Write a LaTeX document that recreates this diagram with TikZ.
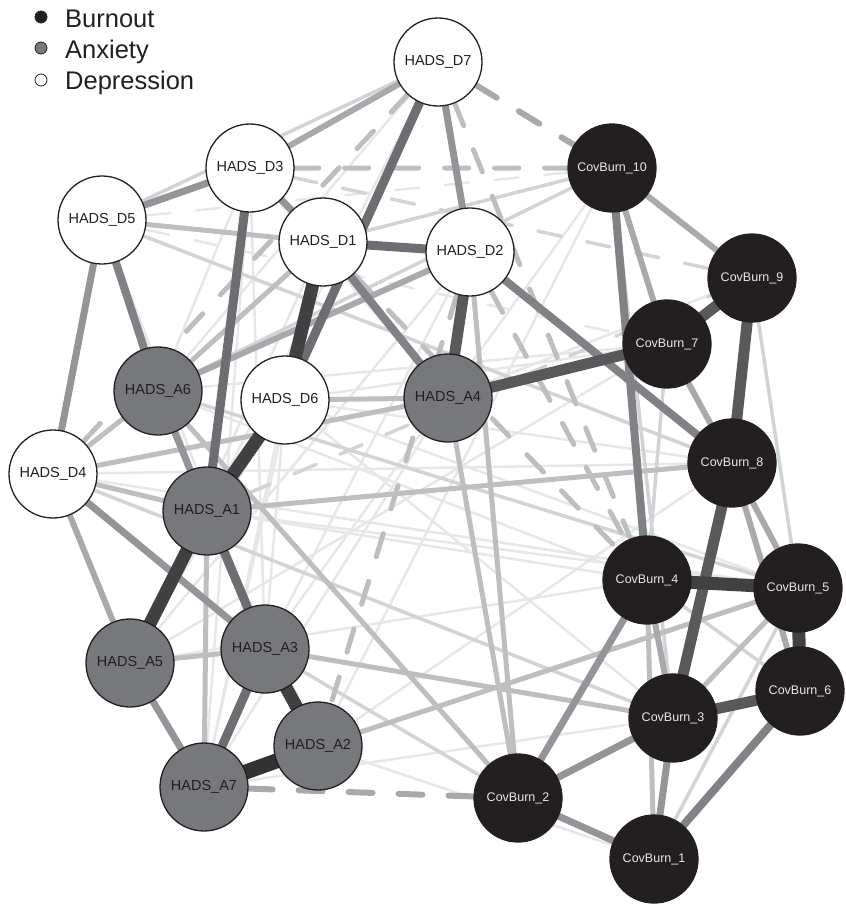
\documentclass[tikz,border=0pt]{standalone}
\usepackage{fontspec}
\setmainfont{Liberation Sans}
\usetikzlibrary{backgrounds}
\definecolor{burn}{HTML}{231F20}
\definecolor{anx}{HTML}{77787B}
\definecolor{burnText}{HTML}{E6E7E8}
\definecolor{g1}{HTML}{333132}
\definecolor{g2}{HTML}{414042}
\definecolor{g3}{HTML}{58595B}
\definecolor{g4}{HTML}{6D6E71}
\definecolor{g5}{HTML}{808285}
\definecolor{g6}{HTML}{939598}
\definecolor{g7}{HTML}{A7A9AC}
\definecolor{g8}{HTML}{BCBEC0}
\definecolor{g9}{HTML}{D1D3D4}
\definecolor{g10}{HTML}{E6E7E8}
\tikzset{
  item/.style={circle, minimum size=88pt, inner sep=0pt, draw=burn, line width=1.3pt},
  burnItem/.style={item, fill=burn, text=burnText, font=\fontsize{12.5}{14}\selectfont},
  anxItem/.style={item, fill=anx, text=burn, font=\fontsize{14.5}{16}\selectfont},
  depItem/.style={item, fill=white, text=burn, font=\fontsize{14.5}{16}\selectfont},
  link/.style={line cap=round},
  w1/.style={link, draw=g1, line width=15pt},
  w2/.style={link, draw=g2, line width=13pt},
  w3/.style={link, draw=g3, line width=11pt},
  w4/.style={link, draw=g4, line width=9pt},
  w5/.style={link, draw=g5, line width=8pt},
  w6/.style={link, draw=g6, line width=7pt},
  w7/.style={link, draw=g7, line width=6pt},
  w8/.style={link, draw=g8, line width=5pt},
  w9/.style={link, draw=g9, line width=3.5pt},
  w10/.style={link, draw=g10, line width=2.5pt},
  neg/.style={dash pattern=on 24pt off 26pt},
  key/.style={font=\fontsize{25.5}{28}\selectfont, text=burn, anchor=base west, inner sep=0pt},
  keyDot/.style={draw=burn, line width=0.8pt}
}

\begin{document}
\begin{tikzpicture}[x=1pt, y=-1pt]
\useasboundingbox (0,0) rectangle (846,905);

% legend
\filldraw[keyDot, fill=burn] (41,17) circle (6);
\filldraw[keyDot, fill=anx] (41,48) circle (6);
\filldraw[keyDot, fill=white] (41,80) circle (6);
\node[key] (kBurn) at (65,27) {Burnout};
\node[key] (kAnx) at (65,58) {Anxiety};
\node[key] (kDep) at (65,89) {Depression};

% depression
\node[depItem] (D7) at (438,62) {HADS\_D7};
\node[depItem] (D3) at (250,168) {HADS\_D3};
\node[depItem] (D5) at (102,220) {HADS\_D5};
\node[depItem] (D1) at (323,242) {HADS\_D1};
\node[depItem] (D2) at (470,252) {HADS\_D2};
\node[depItem] (D6) at (285,400) {HADS\_D6};
\node[depItem] (D4) at (53,474) {HADS\_D4};

% anxiety
\node[anxItem] (A6) at (158,391) {HADS\_A6};
\node[anxItem] (A4) at (448,398) {HADS\_A4};
\node[anxItem] (A1) at (207,511) {HADS\_A1};
\node[anxItem] (A5) at (130,663) {HADS\_A5};
\node[anxItem] (A3) at (265,649) {HADS\_A3};
\node[anxItem] (A2) at (318,746) {HADS\_A2};
\node[anxItem] (A7) at (204,787) {HADS\_A7};

% burnout
\node[burnItem] (C10) at (612,168) {CovBurn\_10};
\node[burnItem] (C9) at (752,278) {CovBurn\_9};
\node[burnItem] (C7) at (667,344) {CovBurn\_7};
\node[burnItem] (C8) at (732,463) {CovBurn\_8};
\node[burnItem] (C4) at (647,580) {CovBurn\_4};
\node[burnItem] (C5) at (798,588) {CovBurn\_5};
\node[burnItem] (C6) at (800,691) {CovBurn\_6};
\node[burnItem] (C3) at (673,718) {CovBurn\_3};
\node[burnItem] (C2) at (518,798) {CovBurn\_2};
\node[burnItem] (C1) at (654,859) {CovBurn\_1};

\begin{scope}[on background layer]
% faint
\draw[w10] (D5)--(A1) (D5)--(A3) (D3)--(A6) (D3)--(A3) (D3)--(A4) (D6)--(A3);
\draw[w10] (D6)--(A5) (D6)--(C5) (A6)--(C4) (D4)--(C5) (D4)--(C8) (A1)--(C5);
\draw[w10] (A1)--(C4) (A5)--(C4) (A7)--(D1) (A7)--(A4) (A3)--(D2) (A2)--(C8);
\draw[w10] (D6)--(C3) (D1)--(A5) (D3)--(A7) (D7)--(A6) (D7)--(A1) (C10)--(A3);
\draw[w10] (C10)--(A2) (C9)--(A4) (C7)--(A5) (C7)--(D6) (C8)--(D6) (A2)--(C1);
\draw[w10] (A7)--(C3) (A7)--(D6) (A5)--(D2) (A6)--(C7);
\draw[w10, neg] (D5)--(C10) (D5)--(C7) (A5)--(D2);
\draw[w9] (D1)--(C10) (D5)--(D7) (D4)--(C3) (A6)--(C5) (A3)--(C2) (D5)--(C8);
\draw[w9] (C10)--(C3) (C9)--(C5) (C7)--(C4) (A6)--(C10) (C1)--(C5) (C4)--(C6);
\draw[w9, neg] (A1)--(C9) (D3)--(C9);
% light
\draw[w8] (A5)--(A3) (D4)--(A6) (A6)--(C2) (A4)--(D6) (A4)--(C2) (D2)--(C2);
\draw[w8] (A1)--(C8) (A2)--(C5) (C3)--(C5) (C4)--(C1) (A3)--(C3) (D4)--(A4);
\draw[w8] (A7)--(A1) (D5)--(D1) (A6)--(D1) (D4)--(A1) (A6)--(A3);
\draw[w8, neg] (D3)--(C10) (D1)--(C4) (D7)--(C4) (D2)--(A2) (D7)--(D4) (D2)--(C4);
\draw[w7] (D3)--(D7) (D2)--(A6) (C10)--(C9) (C10)--(C7) (C7)--(C8) (D4)--(A5);
\draw[w7] (C8)--(C5) (C8)--(C6) (C4)--(C3);
\draw[w7, neg] (A7)--(C2) (D7)--(C10);
% medium
\draw[w6] (D5)--(D4) (D5)--(D3) (D3)--(D1) (A5)--(A7) (A6)--(A1) (D4)--(A3);
\draw[w6] (C3)--(C1) (C2)--(C1) (C2)--(C3) (C2)--(C4) (D7)--(D2);
\draw[w5] (D1)--(A4) (D2)--(C8) (D5)--(A6) (C10)--(C4) (C6)--(C1);
\draw[w4] (A1)--(A3) (A3)--(A7) (D3)--(A1) (D7)--(D6) (D1)--(D2);
% strong
\draw[w3] (C3)--(C6) (C9)--(C7) (C9)--(C8) (C8)--(C3) (D2)--(A4) (A4)--(C7);
\draw[w2] (A1)--(A5) (A3)--(A2) (C4)--(C5) (C5)--(C6) (D1)--(D6) (D6)--(A1);
\draw[w1] (A2)--(A7);
\end{scope}
\end{tikzpicture}
\end{document}
